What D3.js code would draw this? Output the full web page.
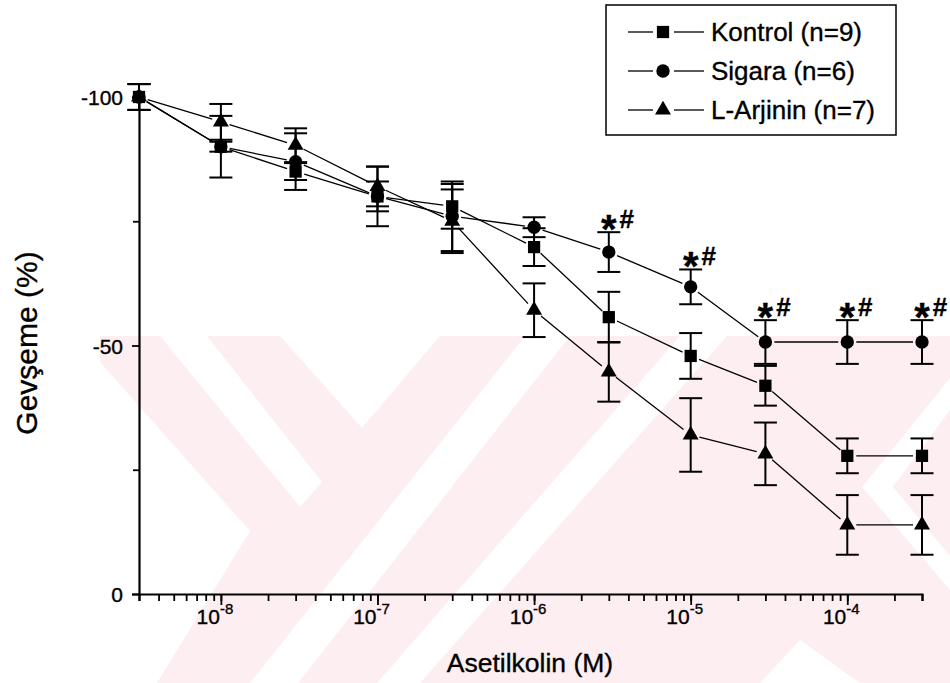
<!DOCTYPE html>
<html>
<head>
<meta charset="utf-8">
<script src="https://cdn.jsdelivr.net/npm/d3@7"></script>
<style>
  body { margin: 0; background: #fff; }
  text { font-family: "Liberation Sans", Arial, Helvetica, sans-serif; fill: #000; stroke: #000; stroke-width: 0.35px; }
</style>
</head>
<body>
<svg id="chart" width="950" height="683"></svg>
<script>
// Acetylcholine concentrations (M)
const concentrations = [3e-9, 1e-8, 3e-8, 1e-7, 3e-7, 1e-6, 3e-6, 1e-5, 3e-5, 1e-4, 3e-4];

// Relaxation (%) and SEM for each group
const kontrol    = [-100, -90, -85, -80, -78, -69.8, -55.7, -47.9, -41.9, -27.8, -27.8];
const kontrolErr = [2.6, 6.2, 1.7, 6, 4.5, 3.8, 5.1, 4.6, 4, 3.5, 3.5];

const sigara    = [-100, -90, -87, -80, -76, -73.8, -68.8, -61.8, -50.7, -50.7, -50.7];
const sigaraErr = [2.6, 1, 5.7, 3, 7, 2, 4, 3.5, 4.4, 4.4, 4.4];

const larjinin    = [-100, -95, -90.3, -82, -75, -57.1, -44.7, -32, -28.2, -13.9, -13.9];
const larjininErr = [2.6, 3.6, 3.4, 4, 6.4, 5.4, 6, 7.4, 6.3, 6, 6];

const seriesNames = ["Kontrol (n=9)", "Sigara (n=6)", "L-Arjinin (n=7)"];

// indexes of Sigara points marked "* #"
const significant = [6, 7, 8, 9, 10];

const yTicks = [0, -50, -100];
const yMinorTicks = [-25, -75];
const xDecades = [1e-8, 1e-7, 1e-6, 1e-5, 1e-4];

const svg = d3.select("#chart");

// ---- background watermark (faint pink chevrons) ----
const wm = svg.append("g");
wm.append("clipPath").attr("id", "wmclip")
  .append("rect").attr("x", 100).attr("y", 336).attr("width", 850).attr("height", 347);
const wmg = wm.append("g").attr("clip-path", "url(#wmclip)");
wmg.append("rect").attr("x", 100).attr("y", 336).attr("width", 850).attr("height", 347)
  .attr("fill", "#fdeef1");
const wmWhite = [
  [[160, 336], [207, 336], [322, 482], [300, 507]],
  [[280, 336], [440, 336], [362, 428]],
  [[100, 362], [250, 531], [157, 683], [100, 683]],
  [[525, 336], [570, 336], [298, 683], [250, 683]],
  [[680, 336], [727, 336], [420, 683], [377, 683]],
  [[950, 378], [950, 410], [893, 487], [950, 556], [950, 590], [862, 487]],
  [[760, 683], [800, 640], [860, 683]]
];
wmg.selectAll("polygon").data(wmWhite).enter().append("polygon")
  .attr("points", d => d.map(p => p.join(",")).join(" "))
  .attr("fill", "#fff");

// ---- scales ----
const x = d3.scaleLog().domain([3e-9, 3e-4]).range([139, 922]);
const y = d3.scaleLinear().domain([0, -100]).range([594, 97]);

// ---- axes ----
const yAxis = svg.append("g").attr("transform", "translate(139,0)")
  .call(d3.axisLeft(y).tickValues(yTicks).tickSize(7).tickPadding(9).tickFormat(d => String(d)));
yAxis.selectAll("text").style("font-size", "21px").attr("dy", "0.36em");
svg.append("g").attr("transform", "translate(139,0)")
  .call(d3.axisLeft(y).tickValues(yMinorTicks).tickSize(6).tickFormat(""))
  .select(".domain").remove();

const minorX = [];
for (let e = -9; e <= -4; e++) {
  for (let k = 1; k <= 9; k++) {
    const v = k * Math.pow(10, e);
    if (v >= 2.99e-9 && v <= 3.01e-4) minorX.push(v);
  }
}
svg.append("g").attr("transform", "translate(0,594)")
  .call(d3.axisBottom(x).tickValues(minorX).tickSize(7).tickFormat(""));
const xAxis = svg.append("g").attr("transform", "translate(0,594)")
  .call(d3.axisBottom(x).tickValues(xDecades).tickSize(11).tickFormat(""));
xAxis.select(".domain").remove();

svg.selectAll(".domain").attr("stroke-width", 2.2);
svg.selectAll(".tick line").attr("stroke-width", 1.8);

// decade labels 10^n
const xLab = svg.append("g").selectAll("text").data(xDecades).enter().append("text")
  .attr("x", d => x(d) - 6)
  .attr("y", 624)
  .attr("text-anchor", "middle")
  .style("font-size", "21px");
xLab.append("tspan").text("10");
xLab.append("tspan").attr("dy", -10).style("font-size", "15px")
  .text(d => Math.round(Math.log10(d)));

// axis titles
svg.append("text").attr("x", 530).attr("y", 672).attr("text-anchor", "middle")
  .style("font-size", "26.5px").text("Asetilkolin (M)");
svg.append("text").attr("transform", "translate(37,343) rotate(-90)")
  .attr("text-anchor", "middle").style("font-size", "30px").text("Gevşeme (%)");

// ---- series ----
const series = [
  { name: seriesNames[0], values: kontrol, err: kontrolErr, symbol: d3.symbolSquare, size: 150 },
  { name: seriesNames[1], values: sigara, err: sigaraErr, symbol: d3.symbolCircle, size: 140 },
  { name: seriesNames[2], values: larjinin, err: larjininErr, symbol: d3.symbolTriangle, size: 110 }
];

const gap = 9;
function segment(p1, p2) {
  const dx = p2[0] - p1[0], dy = p2[1] - p1[1];
  const len = Math.sqrt(dx * dx + dy * dy);
  const ux = dx / len, uy = dy / len;
  return [p1[0] + ux * gap, p1[1] + uy * gap, p2[0] - ux * gap, p2[1] - uy * gap];
}

series.forEach(function(s) {
  const pts = concentrations.map((c, i) => [x(c), y(s.values[i])]);
  const segs = d3.pairs(pts).map(p => segment(p[0], p[1]));
  const g = svg.append("g");

  g.selectAll(".seg").data(segs).enter().append("line")
    .attr("x1", d => d[0]).attr("y1", d => d[1])
    .attr("x2", d => d[2]).attr("y2", d => d[3])
    .attr("stroke", "#000").attr("stroke-width", 1.3);

  // error bars
  concentrations.forEach(function(c, i) {
    const cx = x(c);
    const top = y(s.values[i] - s.err[i]);
    const bot = y(s.values[i] + s.err[i]);
    g.append("line").attr("x1", cx).attr("x2", cx).attr("y1", top).attr("y2", bot)
      .attr("stroke", "#000").attr("stroke-width", 2);
    [top, bot].forEach(function(yy) {
      g.append("line").attr("x1", cx - 11.5).attr("x2", cx + 11.5).attr("y1", yy).attr("y2", yy)
        .attr("stroke", "#000").attr("stroke-width", 2);
    });
  });

  g.selectAll(".pt").data(pts).enter().append("path")
    .attr("d", d3.symbol().type(s.symbol).size(s.size))
    .attr("transform", d => "translate(" + d[0] + "," + d[1] + ")")
    .attr("fill", "#000");
});

// significance markers above Sigara points
const sig = svg.append("g").selectAll("g").data(significant).enter().append("g")
  .attr("transform", i => "translate(" + x(concentrations[i]) + "," + y(sigara[i] - sigaraErr[i]) + ")");
sig.append("text").attr("x", 0).attr("y", 11).attr("text-anchor", "middle")
  .style("font-size", "40px").style("font-weight", "bold").text("*");
sig.append("text").attr("x", 18).attr("y", -4).attr("text-anchor", "middle")
  .style("font-size", "26px").style("font-weight", "bold").text("#");

// ---- legend ----
const legend = svg.append("g");
legend.append("rect").attr("x", 606).attr("y", 5).attr("width", 290).attr("height", 130)
  .attr("fill", "#fff").attr("stroke", "#000").attr("stroke-width", 1.5);
const rowY = [32, 71, 110];
series.forEach(function(s, i) {
  const ly = rowY[i];
  legend.append("line").attr("x1", 628).attr("x2", 653).attr("y1", ly).attr("y2", ly)
    .attr("stroke", "#000").attr("stroke-width", 1.3);
  legend.append("line").attr("x1", 674).attr("x2", 704).attr("y1", ly).attr("y2", ly)
    .attr("stroke", "#000").attr("stroke-width", 1.3);
  legend.append("path").attr("d", d3.symbol().type(s.symbol).size(s.size))
    .attr("transform", "translate(663," + ly + ")").attr("fill", "#000");
  legend.append("text").attr("x", 711).attr("y", ly + 9)
    .style("font-size", "26px").text(s.name);
});
</script>
</body>
</html>
